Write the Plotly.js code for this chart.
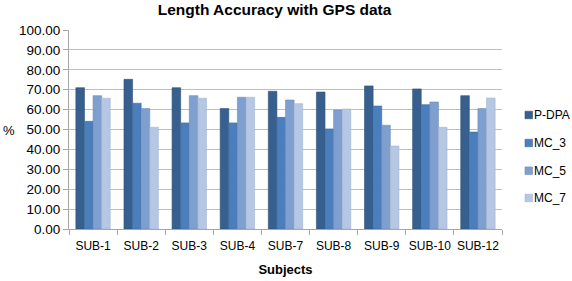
<!DOCTYPE html>
<html>
<head>
<meta charset="utf-8">
<script src="https://cdn.plot.ly/plotly-3.0.1.min.js"></script>
<style>html,body{margin:0;padding:0;background:#fff;}#chart{width:572px;height:281px;}</style>
</head>
<body>
<div id="chart"></div>
<script>
const subjects = ["SUB-1","SUB-2","SUB-3","SUB-4","SUB-7","SUB-8","SUB-9","SUB-10","SUB-12"];
const pDPA = [71.0, 75.2, 71.0, 60.5, 69.2, 68.8, 71.9, 70.4, 67.0];
const mc3  = [54.1, 63.2, 53.3, 53.3, 56.1, 50.3, 61.8, 62.5, 48.7];
const mc5  = [67.0, 60.5, 67.0, 66.2, 64.8, 59.8, 52.1, 63.8, 60.5];
const mc7  = [65.7, 51.1, 65.7, 66.2, 63.0, 60.3, 41.7, 51.1, 65.8];
const seriesNames = ["P-DPA","MC_3","MC_5","MC_7"];
const yTicks = [0,10,20,30,40,50,60,70,80,90,100];

const colors = ["#37608F","#4A7EBD","#7F9FCF","#B6C7E3"];
const lines  = ["#2E5078","#3E6BA1","#6D8CBB","#A2B5D3"];
const font = "'Liberation Sans', Arial, sans-serif";
const data = [pDPA, mc3, mc5, mc7].map((vals, i) => ({
  type: "bar",
  name: seriesNames[i],
  x: subjects,
  y: vals,
  showlegend: false,
  marker: {color: colors[i], line: {color: lines[i], width: 0.6}}
}));

// Manual legend (paper coordinates), laid out to the right of the plot area
const plotL = 69, plotW = 433, plotB = 229, plotH = 199;
const px = v => (v - plotL) / plotW;
const py = v => (plotB - v) / plotH;
const legendY = [115, 143, 170.7, 198];
const shapes = [], annotations = [];
seriesNames.forEach((n, i) => {
  shapes.push({type: "rect", xref: "paper", yref: "paper",
    x0: px(525), x1: px(532.5), y0: py(legendY[i] + 3.75), y1: py(legendY[i] - 3.75),
    fillcolor: colors[i], line: {color: lines[i], width: 0.6}});
  annotations.push({text: n, xref: "paper", yref: "paper", x: px(532), y: py(legendY[i]),
    xanchor: "left", yanchor: "middle", showarrow: false,
    font: {family: font, size: 12, color: "#000"}});
});
annotations.push({
  text: "%", xref: "paper", yref: "paper", x: px(9), y: py(130),
  xanchor: "center", yanchor: "middle", showarrow: false,
  font: {family: font, size: 13, color: "#000"}
});

const layout = {
  width: 572, height: 281,
  margin: {l: 69, r: 70, t: 30, b: 52},
  paper_bgcolor: "#fff", plot_bgcolor: "#fff",
  barmode: "group",
  bargap: 0.285, bargroupgap: 0,
  showlegend: false,
  title: {text: "<b>Length Accuracy with GPS data</b>", font: {family: font, size: 15.5, color: "#000"},
          x: 0.48, xanchor: "center", y: 0.985, yanchor: "top"},
  xaxis: {
    type: "category",
    tickson: "boundaries", ticks: "outside", ticklen: 5, tickcolor: "#A6A6A6",
    tickangle: 0, ticklabelstandoff: 6,
    showline: true, linecolor: "#A6A6A6", linewidth: 1,
    showgrid: false,
    tickfont: {family: font, size: 12, color: "#000"},
    title: {text: "<b>Subjects</b>", font: {family: font, size: 13, color: "#000"}, standoff: 12},
    fixedrange: true
  },
  yaxis: {
    range: [0, 100],
    tickvals: yTicks,
    ticktext: yTicks.map(v => v.toFixed(2)),
    ticks: "outside", ticklen: 5, tickcolor: "#A6A6A6",
    showline: true, linecolor: "#A6A6A6", linewidth: 1,
    showgrid: true, gridcolor: "#BFBFBF", gridwidth: 1,
    zeroline: false,
    tickfont: {family: font, size: 13.5, color: "#000"},
    fixedrange: true
  },
  shapes: shapes,
  annotations: annotations
};

Plotly.newPlot("chart", data, layout, {displayModeBar: false, staticPlot: true});
</script>
</body>
</html>
